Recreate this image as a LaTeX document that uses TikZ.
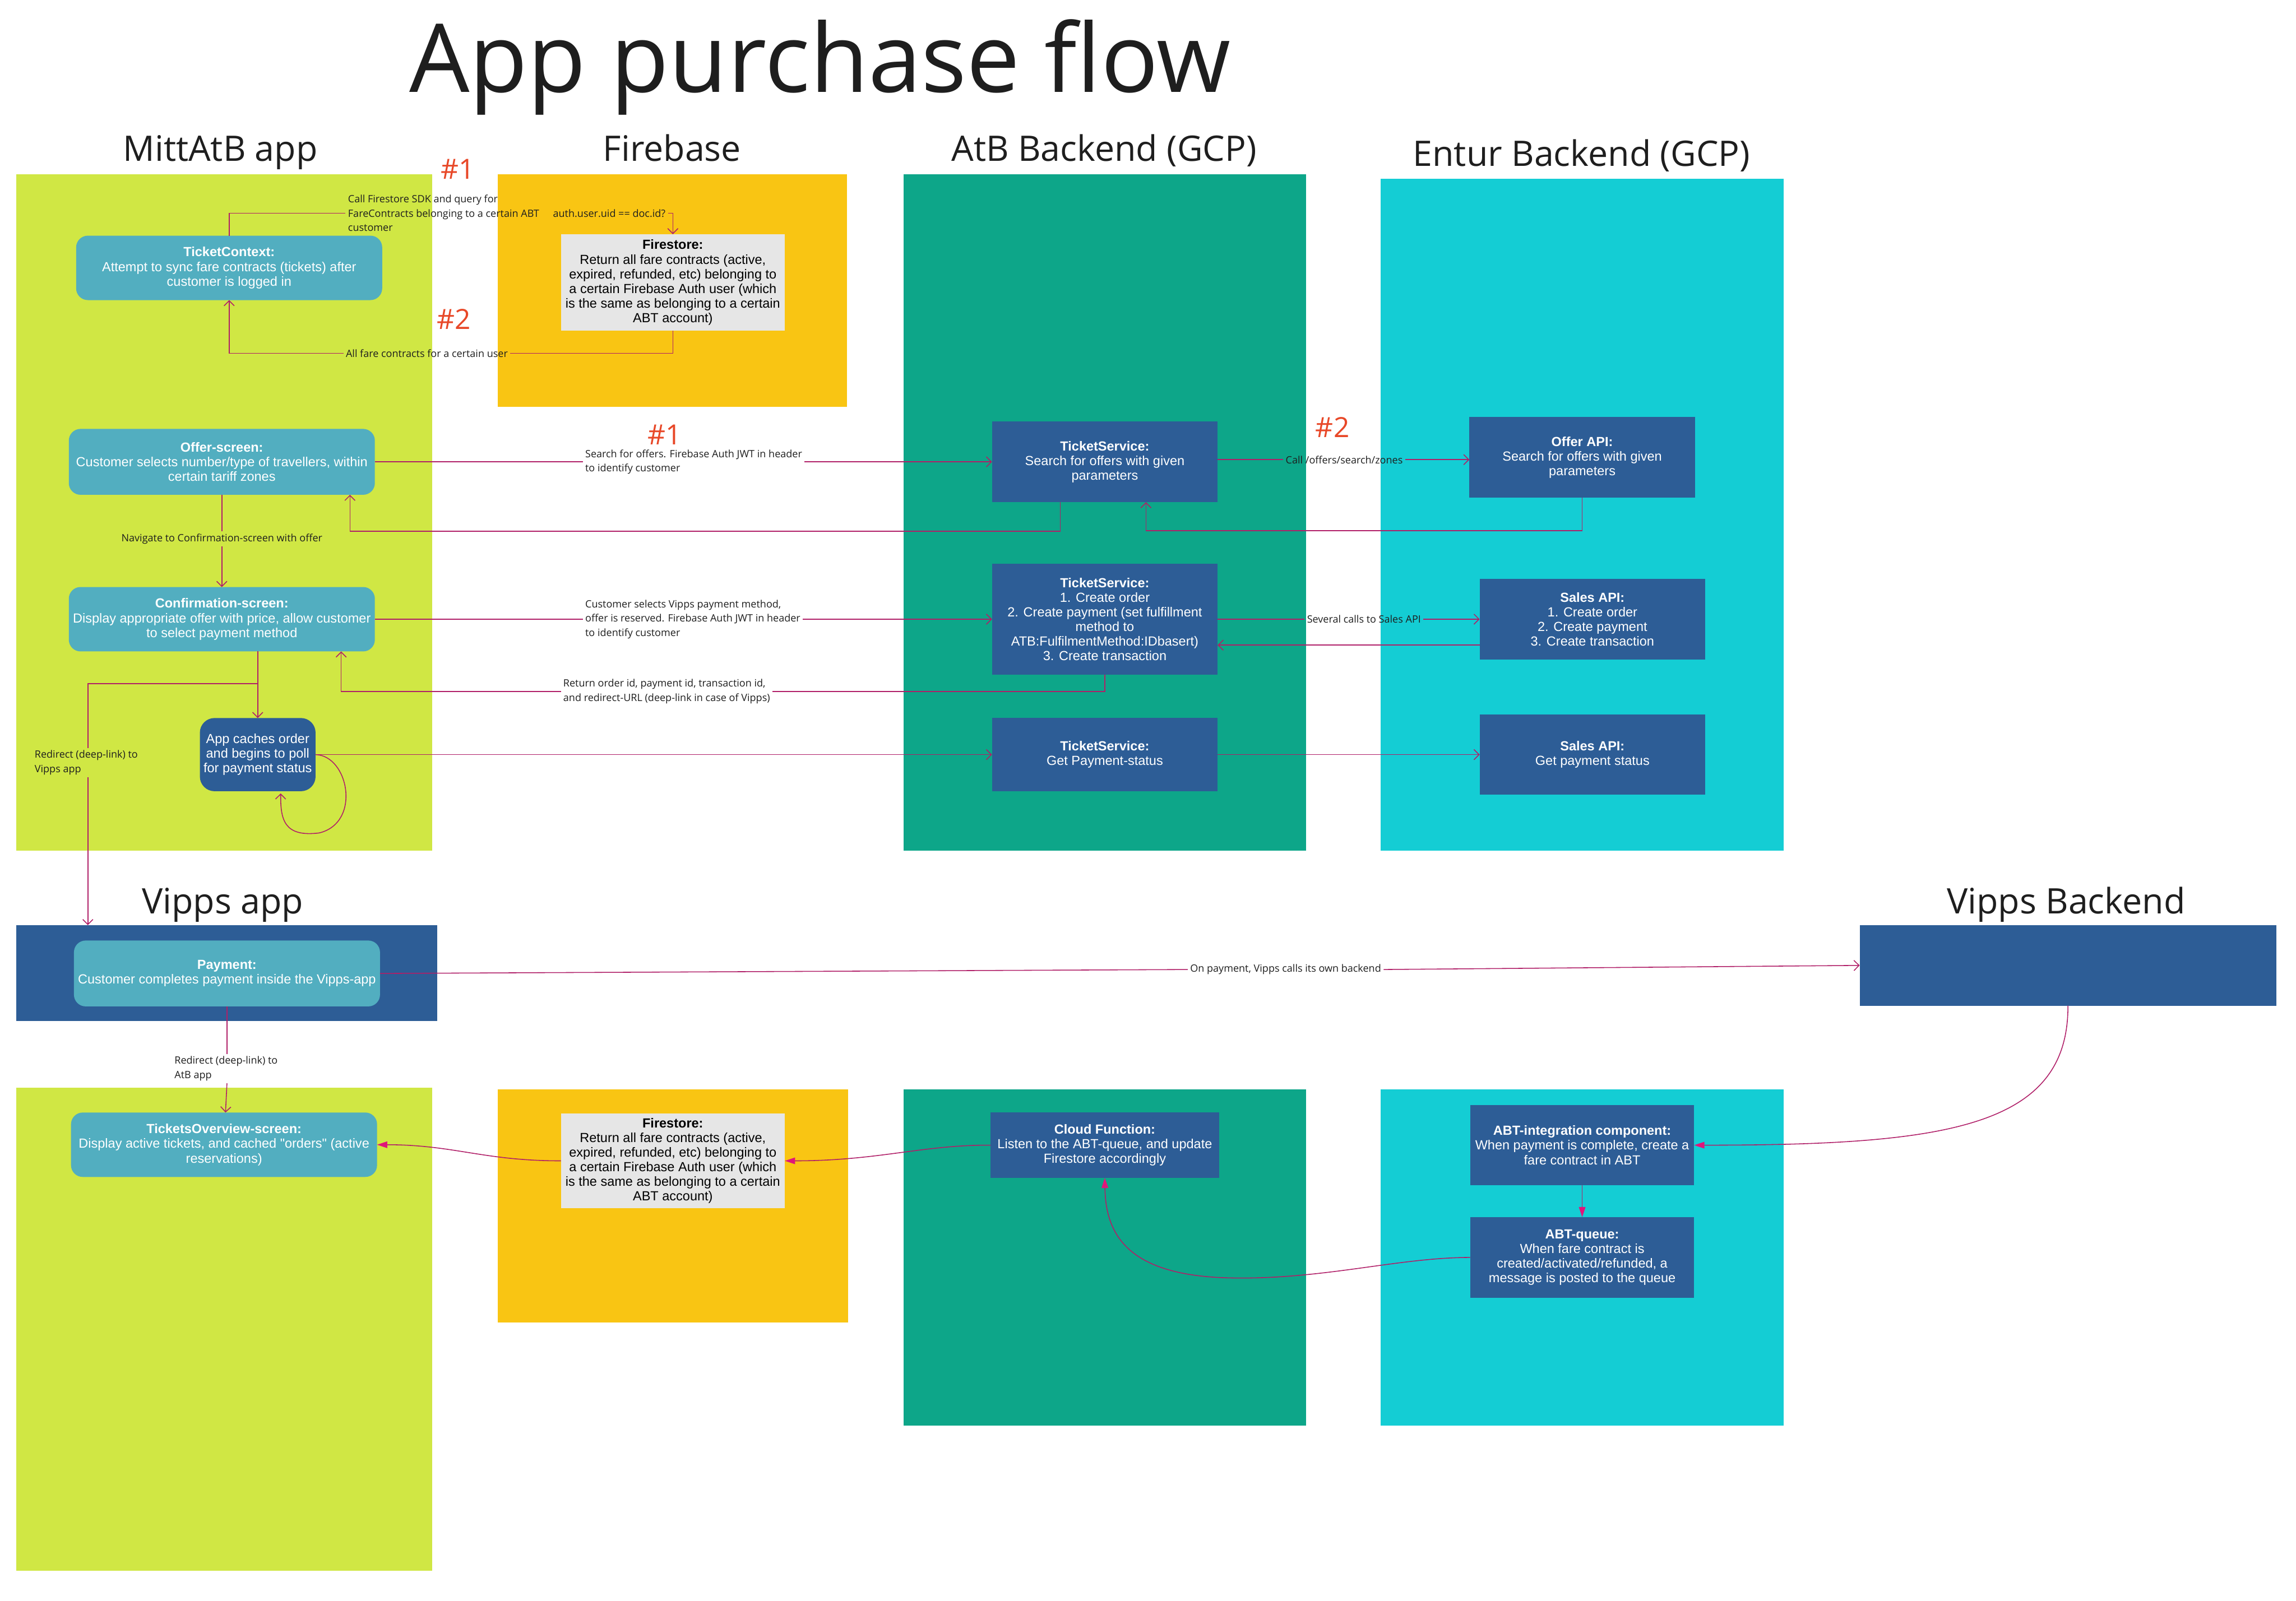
\documentclass[tikz,border=0pt]{standalone}
\usepackage{fontspec}
\setmainfont{Open Sans}
\newfontfamily\boxf{Liberation Sans}
\usetikzlibrary{arrows.meta,calc}
\definecolor{limec}{HTML}{D0E744}
\definecolor{yellowc}{HTML}{F9C513}
\definecolor{atbc}{HTML}{0DA689}
\definecolor{enturc}{HTML}{14CDD4}
\definecolor{darkbluec}{HTML}{2D5D96}
\definecolor{tealc}{HTML}{52AEC0}
\definecolor{grayc}{HTML}{E6E6E6}
\definecolor{numred}{HTML}{E84828}
\definecolor{linec}{HTML}{B01F68}
\definecolor{arrowm}{HTML}{E0157A}
\definecolor{inkc}{HTML}{1E1E1E}
\begin{document}
\begin{tikzpicture}[x=1pt,y=-1pt,
  lane/.style={draw=none,inner sep=0,outer sep=0,anchor=north west},
  box/.style={inner sep=0,outer sep=0,align=center,font=\boxf\fontsize{9}{10}\selectfont},
  tealbox/.style={box,fill=tealc,text=white,rounded corners=8pt},
  bluebox/.style={box,fill=darkbluec,text=white},
  graybox/.style={box,fill=grayc,text=black},
  lbl/.style={inner sep=1.5pt,font=\fontsize{6.9}{9.8}\selectfont,align=left,text=inkc},
  hdr/.style={font=\fontsize{24}{28}\selectfont,anchor=base,text=inkc},
  num/.style={font=\fontsize{19}{22}\selectfont,text=numred},
  plain/.style={draw=linec,line width=0.6pt},
  conn/.style={draw=linec,line width=0.6pt,-{Straight Barb[length=3.5pt,width=7pt]}},
  fconn/.style={draw=linec,line width=0.6pt,-{Triangle[length=7pt,width=4.5pt,color=arrowm,fill=arrowm]}}
]
\fill[white] (0,0) rectangle (1568,1093.6);
\useasboundingbox (0,0) rectangle (1568,1093.6);

% title and headers
\node[font=\fontsize{65}{70}\selectfont,anchor=base,text=inkc] (title) at (560,63) {App purchase flow};
\node[hdr] (hmitt) at (150.5,110) {MittAtB app};
\node[hdr] (hfb) at (459,110) {Firebase};
\node[hdr] (hatb) at (754,110) {AtB Backend (GCP)};
\node[hdr] (hentur) at (1080,113.6) {Entur Backend (GCP)};
\node[hdr] (hvapp) at (152,624) {Vipps app};
\node[hdr] (hvbe) at (1411,624) {Vipps Backend};

% lanes
\node[lane,fill=limec,minimum width=284pt,minimum height=462pt] (mitt1) at (11,119) {};
\node[lane,fill=yellowc,minimum width=238.5pt,minimum height=159pt] (fb1) at (340,119) {};
\node[lane,fill=atbc,minimum width=275pt,minimum height=462pt] (atb1) at (617,119) {};
\node[lane,fill=enturc,minimum width=275pt,minimum height=459pt] (entur1) at (943,122) {};
\node[lane,fill=darkbluec,minimum width=287.5pt,minimum height=65.5pt] (vippsapp) at (11,632) {};
\node[lane,fill=limec,minimum width=284pt,minimum height=330pt] (mitt2) at (11,743) {};
\node[lane,fill=yellowc,minimum width=239pt,minimum height=159.5pt] (fb2) at (340,744) {};
\node[lane,fill=atbc,minimum width=275pt,minimum height=230pt] (atb2) at (617,744) {};
\node[lane,fill=enturc,minimum width=275pt,minimum height=230pt] (entur2) at (943,744) {};

% boxes
\node[tealbox,minimum width=209pt,minimum height=44pt] (tc) at (156.5,183) {\textbf{TicketContext:}\\Attempt to sync fare contracts (tickets) after\\customer is logged in};
\node[graybox,minimum width=153pt,minimum height=66pt] (fs1) at (459.5,193) {\textbf{Firestore:}\\Return all fare contracts (active,\\expired, refunded, etc) belonging to\\a certain Firebase Auth user (which\\is the same as belonging to a certain\\ABT account)};
\node[tealbox,minimum width=209pt,minimum height=45pt] (offer) at (151.5,315.5) {\textbf{Offer-screen:}\\Customer selects number/type of travellers, within\\certain tariff zones};
\node[tealbox,minimum width=209pt,minimum height=44pt] (conf) at (151.5,423) {\textbf{Confirmation-screen:}\\Display appropriate offer with price, allow customer\\to select payment method};
\node[box,fill=darkbluec,text=white,rounded corners=10pt,minimum width=79pt,minimum height=50pt] (caches) at (176,515.5) {App caches order\\and begins to poll\\for payment status};
\node[bluebox,minimum width=154pt,minimum height=55pt] (ts1) at (754.5,315.5) {\textbf{TicketService:}\\Search for offers with given\\parameters};
\node[bluebox,minimum width=154pt,minimum height=76pt] (ts2) at (754.5,423) {\textbf{TicketService:}\\1. Create order\\2. Create payment (set fulfillment\\method to\\ATB:FulfilmentMethod:IDbasert)\\3. Create transaction};
\node[bluebox,minimum width=154pt,minimum height=50pt] (ts3) at (754.5,515.5) {\textbf{TicketService:}\\Get Payment-status};
\node[bluebox,minimum width=154pt,minimum height=55pt] (offerapi) at (1080.5,312.5) {\textbf{Offer API:}\\Search for offers with given\\parameters};
\node[bluebox,minimum width=154pt,minimum height=55pt] (sales1) at (1087.5,423) {\textbf{Sales API:}\\1. Create order\\2. Create payment\\3. Create transaction};
\node[bluebox,minimum width=154pt,minimum height=55pt] (sales2) at (1087.5,515.5) {\textbf{Sales API:}\\Get payment status};
\node[tealbox,minimum width=209pt,minimum height=45pt] (payment) at (155,665) {\textbf{Payment:}\\Customer completes payment inside the Vipps-app};
\node[bluebox,minimum width=284.5pt,minimum height=55pt] (vippsbe) at (1412.25,659.5) {};
\node[tealbox,minimum width=209pt,minimum height=44pt] (tov) at (153,782) {\textbf{TicketsOverview-screen:}\\Display active tickets, and cached "orders" (active\\reservations)};
\node[graybox,minimum width=153pt,minimum height=65pt] (fs2) at (459.5,793) {\textbf{Firestore:}\\Return all fare contracts (active,\\expired, refunded, etc) belonging to\\a certain Firebase Auth user (which\\is the same as belonging to a certain\\ABT account)};
\node[bluebox,minimum width=156pt,minimum height=44.5pt] (cf) at (754.5,782.3) {\textbf{Cloud Function:}\\Listen to the ABT-queue, and update\\Firestore accordingly};
\node[bluebox,minimum width=153pt,minimum height=55pt] (abtint) at (1080.5,782.3) {\textbf{ABT-integration component:}\\When payment is complete, create a\\fare contract in ABT};
\node[bluebox,minimum width=153pt,minimum height=55pt] (abtq) at (1080.5,859) {\textbf{ABT-queue:}\\When fare contract is\\created/activated/refunded, a\\message is posted to the queue};

% numbers
\node[num] (n1a) at (312.5,115.5) {\#1};
\node[num] (n2a) at (310,218) {\#2};
\node[num] (n1b) at (454,297) {\#1};
\node[num] (n2b) at (910,292) {\#2};

% labels
\node[lbl,anchor=west] (lblA) at (236,145.6) {Call Firestore SDK and query for\\FareContracts belonging to a certain ABT\\customer};
\node[lbl,anchor=west] (lblB) at (376,145.6) {auth.user.uid == doc.id?};
\node[lbl] (lblC) at (291.5,241.4) {All fare contracts for a certain user};
\node[lbl,anchor=west] (lblD) at (398,315.5) {Search for offers. Firebase Auth JWT in header\\to identify customer};
\node[lbl] (lblE) at (918,314) {Call /offers/search/zones};
\node[lbl] (lblF) at (151.5,368) {Navigate to Confirmation-screen with offer};
\node[lbl,anchor=west] (lblG) at (398,423) {Customer selects Vipps payment method,\\offer is reserved. Firebase Auth JWT in header\\to identify customer};
\node[lbl,anchor=west] (lblH) at (383,472.3) {Return order id, payment id, transaction id,\\and redirect-URL (deep-link in case of Vipps)};
\node[lbl] (lblI) at (931.5,423) {Several calls to Sales API};
\node[lbl,anchor=west] (lblJ) at (22,521) {Redirect (deep-link) to\\Vipps app};
\node[lbl] (lblK) at (878,662.3) {On payment, Vipps calls its own backend};
\node[lbl,anchor=west] (lblL) at (117.5,730) {Redirect (deep-link) to\\AtB app};

% helper coordinates
\coordinate (r1) at (724,363);
\coordinate (r2) at (782.6,362.5);
\coordinate (r3) at (233,472.3);
\coordinate (r4) at (900,440.7);
\coordinate (r5) at (60,467);

% connectors: top part
\draw[plain] (tc.north) |- (lblA.west);
\draw[conn] (lblB.east) -| (fs1.north);
\draw[plain] (fs1.south) |- (lblC.east);
\draw[conn] (lblC.west) -| (tc.south);

\draw[plain] (offer.east) -- (lblD.west);
\draw[conn] (lblD.east) -- (ts1.west);
\draw[conn] (ts1.south -| r1) -- (r1) -| ([xshift=87.5pt]offer.south);

\draw[plain] (ts1.east |- lblE.west) -- (lblE.west);
\draw[conn] (lblE.east) -- (offerapi.west |- lblE.east);
\draw[conn] (offerapi.south) |- (r2) -- (ts1.south -| r2);

\draw[plain] (offer.south) -- (lblF.north);
\draw[conn] (lblF.south) -- (conf.north);

\draw[plain] (conf.east) -- (lblG.west);
\draw[conn] (lblG.east) -- (ts2.west |- lblG.east);
\draw[plain] (ts2.south) |- (lblH.east);
\draw[conn] (lblH.west) -| (conf.south -| r3);

\draw[plain] (ts2.east) -- (lblI.west);
\draw[conn] (lblI.east) -- (sales1.west);
\draw[conn] (sales1.west |- r4) -- (ts2.east |- r4);

\draw[conn] (conf.south -| caches.north) -- (caches.north);
\draw[plain] (conf.south -| caches.north) |- (r5) -- (r5 |- lblJ.north);
\draw[conn] (r5 |- lblJ.south) -- (r5 |- vippsapp.north);

\draw[conn] (caches.east) -- (ts3.west |- caches.east);
\draw[conn] (ts3.east) -- (sales2.west |- ts3.east);
\draw[conn] (caches.east) .. controls (238,516) and (247,562) .. (218,569)
   .. controls (194,572) and (191.5,560) .. ([xshift=15.7pt,yshift=-1.5pt]caches.south);

% middle part
\draw[plain] (payment.east) -- (lblK.west);
\draw[conn] (lblK.east) -- (vippsbe.west);
\draw[plain] (payment.south) -- (payment.south |- lblL.north);
\draw[conn] (payment.south |- lblL.south) -- ([xshift=1pt]tov.north);

% bottom part
\draw[fconn] (vippsbe.south) .. controls (1412.5,770) and (1330,782.3) .. (abtint.east);
\draw[fconn] (abtint.south) -- (abtq.north);
\draw[fconn] (abtq.west) .. controls (955,859) and (905,874) .. (842,873)
   .. controls (772,872) and (755,845) .. (cf.south);
\draw[fconn] (cf.west) .. controls (630,782) and (600,793) .. (fs2.east);
\draw[fconn] (fs2.west) .. controls (330,793) and (310,782) .. (tov.east);
\end{tikzpicture}
\end{document}
